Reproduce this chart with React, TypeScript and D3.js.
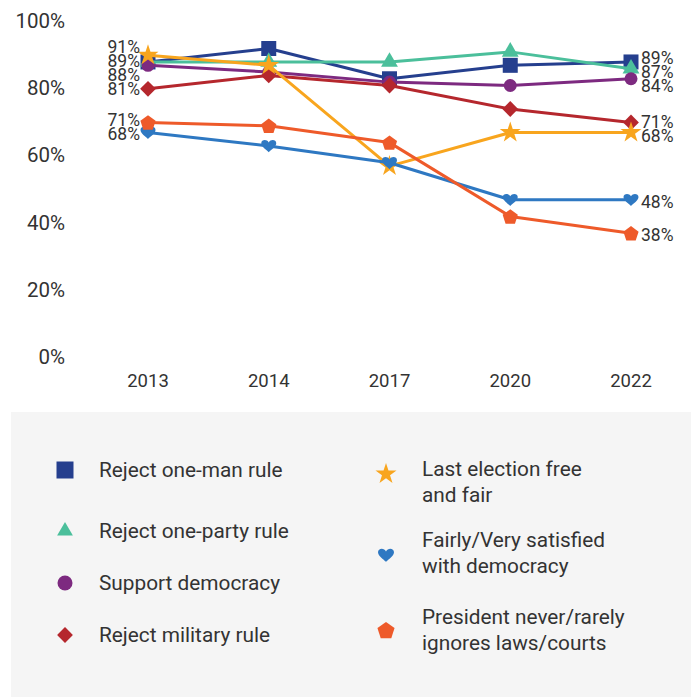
import React from "react";
import * as d3 from "d3";

const years = ["2013", "2014", "2017", "2020", "2022"];
const yTicks = [0, 20, 40, 60, 80, 100];

const oneMan = [89, 93, 84, 88, 89];
const oneParty = [89, 89, 89, 92, 87];
const supportDem = [88, 86, 83, 82, 84];
const military = [81, 85, 82, 75, 71];
const freeFair = [91, 88, 58, 68, 68];
const satisfied = [68, 64, 59, 48, 48];
const president = [71, 70, 65, 43, 38];

const seriesNames = [
  "Reject one-man rule",
  "Reject one-party rule",
  "Support democracy",
  "Reject military rule",
  "Last election free and fair",
  "Fairly/Very satisfied with democracy",
  "President never/rarely ignores laws/courts",
];
const seriesValues = [oneMan, oneParty, supportDem, military, freeFair, satisfied, president];
const seriesColors = ["#253F8E", "#4BBF9B", "#7D2A80", "#B5272D", "#F8A51E", "#2E78C2", "#EE5A2A"];
const seriesShapes = ["square", "triangle", "circle", "diamond", "star", "heart", "pentagon"];

const legendLeft = [
  { idx: 0, lines: ["Reject one-man rule"] },
  { idx: 1, lines: ["Reject one-party rule"] },
  { idx: 2, lines: ["Support democracy"] },
  { idx: 3, lines: ["Reject military rule"] },
];
const legendRight = [
  { idx: 4, lines: ["Last election free", "and fair"] },
  { idx: 5, lines: ["Fairly/Very satisfied", "with democracy"] },
  { idx: 6, lines: ["President never/rarely", "ignores laws/courts"] },
];

function heartPath(s: number) {
  const r = s / 2;
  const p = d3.path();
  p.moveTo(0, r * 0.85);
  p.bezierCurveTo(-r * 0.3, r * 0.55, -r, r * 0.1, -r, -r * 0.35);
  p.bezierCurveTo(-r, -r * 0.85, -r * 0.25, -r * 0.95, 0, -r * 0.45);
  p.bezierCurveTo(r * 0.25, -r * 0.95, r, -r * 0.85, r, -r * 0.35);
  p.bezierCurveTo(r, r * 0.1, r * 0.3, r * 0.55, 0, r * 0.85);
  p.closePath();
  return p.toString();
}

function pentagonPath(s: number) {
  const r = s / 2;
  const pts = d3.range(5).map((i) => {
    const a = -Math.PI / 2 + (i * 2 * Math.PI) / 5;
    return [r * Math.cos(a), r * Math.sin(a) + r * 0.1];
  });
  return "M" + pts.map((p) => p.join(",")).join("L") + "Z";
}

function markerPath(shape: string, s: number) {
  switch (shape) {
    case "square":
      return d3.symbol(d3.symbolSquare, s * s)()!;
    case "triangle":
      return d3.symbol(d3.symbolTriangle, s * s * 0.55)()!;
    case "circle":
      return d3.symbol(d3.symbolCircle, (Math.PI * s * s) / 4)()!;
    case "diamond":
      return d3.symbol(d3.symbolDiamond2, s * s * 0.55)()!;
    case "star":
      return d3.symbol(d3.symbolStar, s * s * 0.38)()!;
    case "heart":
      return heartPath(s);
    case "pentagon":
      return pentagonPath(s);
  }
  return "";
}

const chartSizes: Record<string, number> = {
  square: 15,
  triangle: 15,
  circle: 13,
  diamond: 17,
  star: 19,
  heart: 15,
  pentagon: 16,
};
const legendSizes: Record<string, number> = {
  square: 17,
  triangle: 14,
  circle: 15,
  diamond: 17,
  star: 19,
  heart: 16,
  pentagon: 18,
};

function dodge(ys: number[], gap: number) {
  const order = ys.map((y, i) => ({ y, i })).sort((a, b) => a.y - b.y);
  for (let it = 0; it < 200; it++) {
    let moved = false;
    for (let k = 1; k < order.length; k++) {
      const d = order[k].y - order[k - 1].y;
      if (d < gap - 0.01) {
        const push = (gap - d) / 2;
        order[k - 1].y -= push;
        order[k].y += push;
        moved = true;
      }
    }
    if (!moved) break;
  }
  const out = new Array(ys.length);
  order.forEach((o) => (out[o.i] = o.y));
  return out as number[];
}

export default function App() {
  const W = 691;
  const H = 697;
  const x = d3.scalePoint<string>().domain(years).range([148, 631]);
  const y = d3.scaleLinear().domain([0, 100]).range([361, 25]);
  const line = d3
    .line<number>()
    .x((_, i) => x(years[i])!)
    .y((v) => y(v));

  const font = "Roboto, 'Noto Sans', sans-serif";
  const textColor = "#333333";

  const endLabels = (col: number, shift: number) => {
    const vals = Array.from(new Set(seriesValues.map((s) => s[col]))).sort((a, b) => b - a);
    const ys = dodge(vals.map((v) => y(v)), 14);
    return vals.map((v, i) => ({ v, y: ys[i] + shift }));
  };
  const leftLabels = endLabels(0, 0);
  const rightLabels = endLabels(years.length - 1, 2);

  return (
    <svg width={W} height={H} style={{ position: "absolute", left: 0, top: 0, display: "block" }} fontFamily={font}>
      <rect x={0} y={0} width={W} height={H} fill="#ffffff" />
      {yTicks.map((t) => (
        <text key={t} x={65} y={y(t) - 4} textAnchor="end" dominantBaseline="central" fontSize={20.5} fill={textColor}>
          {t}%
        </text>
      ))}
      {years.map((yr) => (
        <text key={yr} x={x(yr)} y={381} textAnchor="middle" dominantBaseline="central" fontSize={18.5} fill={textColor}>
          {yr}
        </text>
      ))}
      {seriesValues.map((vals, si) => (
        <g key={si}>
          <path d={line(vals)!} fill="none" stroke={seriesColors[si]} strokeWidth={3} strokeLinejoin="round" />
          {vals.map((v, i) => (
            <path
              key={i}
              d={markerPath(seriesShapes[si], chartSizes[seriesShapes[si]])}
              transform={`translate(${x(years[i])},${y(v)})`}
              fill={seriesColors[si]}
            />
          ))}
        </g>
      ))}
      {leftLabels.map((l) => (
        <text key={"l" + l.v} x={140} y={l.y} textAnchor="end" dominantBaseline="central" fontSize={17.5} fill={textColor}>
          {l.v}%
        </text>
      ))}
      {rightLabels.map((l) => (
        <text key={"r" + l.v} x={641} y={l.y} textAnchor="start" dominantBaseline="central" fontSize={17.5} fill={textColor}>
          {l.v}%
        </text>
      ))}
      <rect x={11} y={412} width={W - 11} height={H - 412} fill="#F5F5F5" />
      {legendLeft.map((e, k) => {
        const rowY = [470, 531, 583, 635][k];
        const shape = seriesShapes[e.idx];
        return (
          <g key={"ll" + k}>
            <path d={markerPath(shape, legendSizes[shape])} transform={`translate(65,${rowY})`} fill={seriesColors[e.idx]} />
            {e.lines.map((ln, j) => (
              <text key={j} x={99} y={rowY + j * 26} dominantBaseline="central" fontSize={20.8} fill={textColor}>
                {ln}
              </text>
            ))}
          </g>
        );
      })}
      {legendRight.map((e, k) => {
        const rowY = [469, 540, 617][k];
        const markY = [474, 555, 630][k];
        const shape = seriesShapes[e.idx];
        return (
          <g key={"lr" + k}>
            <path d={markerPath(shape, legendSizes[shape])} transform={`translate(386,${markY})`} fill={seriesColors[e.idx]} />
            {e.lines.map((ln, j) => (
              <text key={j} x={422} y={rowY + j * 26} dominantBaseline="central" fontSize={20.8} fill={textColor}>
                {ln}
              </text>
            ))}
          </g>
        );
      })}
    </svg>
  );
}
